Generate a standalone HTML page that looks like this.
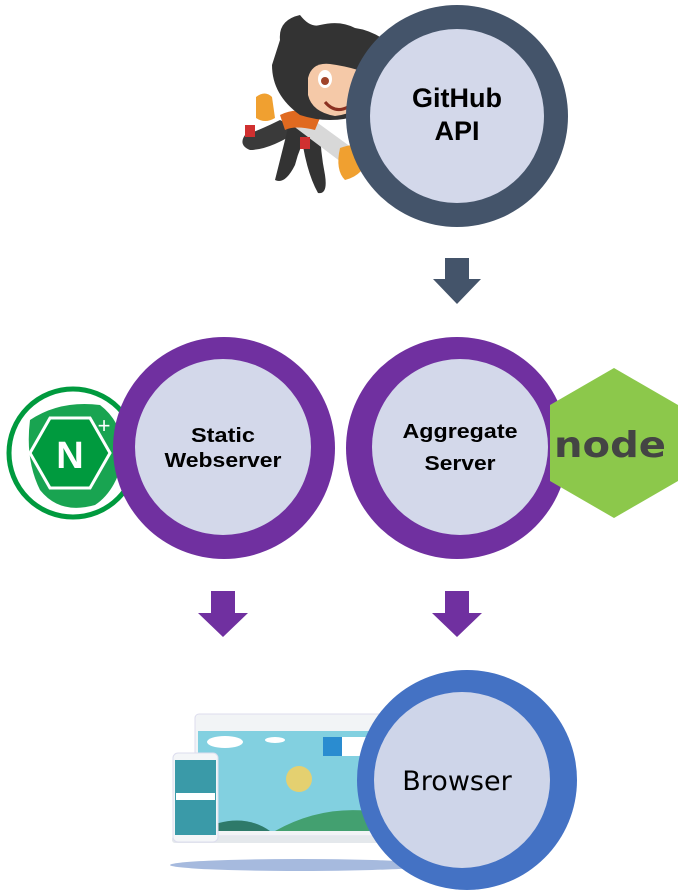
<!DOCTYPE html>
<html><head><meta charset="utf-8"><style>
html,body{margin:0;padding:0;background:#fff;}
svg{display:block;}
</style></head><body>
<svg width="681" height="892" viewBox="0 0 681 892" xmlns="http://www.w3.org/2000/svg">
<!-- Octocat (approx) -->
<g>
 <path d="M300 130 Q270 150 250 150 Q238 145 245 135 Q260 130 280 120 Z" fill="#3a3a3a"/>
 <path d="M290 120 Q280 160 275 180 Q285 185 295 165 Q300 145 310 130 Z" fill="#333"/>
 <path d="M300 125 Q305 170 318 193 Q328 195 325 175 Q320 150 320 125 Z" fill="#333"/>
 <path d="M256 97 Q265 90 272 97 L275 118 Q265 124 256 118 Z" fill="#f0a030"/>
 <path d="M300 110 L355 150 L345 165 L292 125 Z" fill="#d8d8d8"/>
 <path d="M340 148 Q360 140 368 155 Q365 175 345 180 Q335 170 340 148 Z" fill="#f0a030"/>
 <rect x="245" y="125" width="10" height="12" fill="#d03030"/>
 <rect x="300" y="137" width="10" height="12" fill="#d03030"/>
 <path d="M280 115 Q300 105 320 118 L315 130 Q295 125 285 130 Z" fill="#e06a20"/>
 <path d="M280 40 Q278 20 300 15 Q310 28 320 25 Q340 20 355 28 Q370 30 385 40 Q388 60 380 70 Q385 100 360 115 Q330 125 300 115 Q272 95 272 65 Z" fill="#333"/>
 <path d="M308 78 Q312 62 330 64 Q345 66 358 70 Q374 78 372 92 Q365 112 335 116 Q312 112 308 95 Z" fill="#f5c9a8"/>
 <ellipse cx="325" cy="79" rx="7" ry="9" fill="#fff"/><circle cx="325" cy="81" r="4" fill="#a0442a"/>
 <ellipse cx="362" cy="90" rx="5" ry="8" fill="#fff"/><circle cx="362" cy="92" r="3" fill="#a0442a"/>
 <path d="M325 102 Q335 114 348 107" stroke="#8a3020" stroke-width="3" fill="none"/>
</g>
<!-- GitHub API -->
<circle cx="457" cy="116" r="111" fill="#44546a"/>
<circle cx="457" cy="116" r="87" fill="#d3d8ea"/>
<text x="457" y="107" font-family="Liberation Sans, sans-serif" font-weight="bold" font-size="27" text-anchor="middle">GitHub</text>
<text x="457" y="140" font-family="Liberation Sans, sans-serif" font-weight="bold" font-size="27" text-anchor="middle">API</text>
<path d="M445 258 H469 V279 H481 L457 304 L433 279 H445 Z" fill="#44546a"/>
<!-- Nginx -->
<ellipse cx="73" cy="453" rx="64" ry="64" fill="#fff" stroke="#009a3e" stroke-width="5"/>
<path d="M30 420 Q60 400 100 405 Q120 420 125 450 Q118 490 95 505 Q60 515 40 490 Q25 460 30 420 Z" fill="#009a3e" opacity="0.9"/>
<polygon points="50,418 90,418 110,453 90,488 50,488 30,453" fill="#009a3e" stroke="#fff" stroke-width="3"/>
<text x="70" y="468" font-family="Liberation Sans, sans-serif" font-weight="bold" font-size="38" fill="#fff" text-anchor="middle">N</text>
<text x="104" y="433" font-family="Liberation Sans, sans-serif" font-size="22" fill="#fff" text-anchor="middle">+</text>
<!-- Static Webserver -->
<circle cx="224" cy="448" r="111" fill="#7030a0"/>
<circle cx="223" cy="447" r="88" fill="#d3d8ea"/>
<text x="223" y="442" font-family="Liberation Sans, sans-serif" font-weight="bold" font-size="20" text-anchor="middle" textLength="64" lengthAdjust="spacingAndGlyphs">Static</text>
<text x="223" y="467" font-family="Liberation Sans, sans-serif" font-weight="bold" font-size="20" text-anchor="middle" textLength="117" lengthAdjust="spacingAndGlyphs">Webserver</text>
<!-- Aggregate Server -->
<circle cx="457" cy="448" r="111" fill="#7030a0"/>
<circle cx="460" cy="447" r="88" fill="#d3d8ea"/>
<text x="460" y="438" font-family="Liberation Sans, sans-serif" font-weight="bold" font-size="20" text-anchor="middle" textLength="115" lengthAdjust="spacingAndGlyphs">Aggregate</text>
<text x="460" y="470" font-family="Liberation Sans, sans-serif" font-weight="bold" font-size="20" text-anchor="middle" textLength="71" lengthAdjust="spacingAndGlyphs">Server</text>
<!-- Node -->
<polygon points="614,368 678,405 678,481 614,518 550,481 550,405" fill="#8cc84b"/>
<text x="610" y="457" font-family="DejaVu Sans, sans-serif" font-weight="bold" font-size="36" fill="#444" text-anchor="middle" textLength="112" lengthAdjust="spacingAndGlyphs">node</text>
<!-- purple arrows -->
<path d="M211 591 H235 V613 H248 L223 637 L198 613 H211 Z" fill="#7030a0"/>
<path d="M445 591 H469 V613 H482 L457 637 L432 613 H445 Z" fill="#7030a0"/>
<!-- Browser -->
<ellipse cx="300" cy="865" rx="130" ry="6" fill="#6a8cc8" opacity="0.6"/>
<rect x="195" y="714" width="200" height="122" rx="4" fill="#f2f4f6" stroke="#dde" stroke-width="1"/>
<rect x="198" y="731" width="195" height="100" fill="#82d0e0"/>
<path d="M198 831 Q240 810 270 831 Z" fill="#2e7a6a"/>
<path d="M275 831 Q330 800 393 815 V831 Z" fill="#43a070"/>
<circle cx="299" cy="779" r="13" fill="#e4d070"/>
<ellipse cx="225" cy="742" rx="18" ry="6" fill="#fff"/>
<ellipse cx="275" cy="740" rx="10" ry="3" fill="#fff"/>
<rect x="323" y="737" width="60" height="19" fill="#fff"/>
<rect x="323" y="737" width="19" height="19" fill="#2a8cd0"/>
<rect x="172" y="836" width="225" height="7" rx="3" fill="#e4e8ec"/>
<rect x="173" y="753" width="45" height="89" rx="5" fill="#f4f6f8" stroke="#dde"/>
<rect x="175" y="760" width="41" height="75" fill="#3a9aa8"/>
<rect x="176" y="793" width="39" height="7" fill="#fff"/>
<circle cx="467" cy="780" r="110" fill="#4472c4"/>
<circle cx="462" cy="780" r="88" fill="#d3d8ea" opacity="0.97"/>
<text x="457" y="790" font-family="DejaVu Sans, sans-serif" font-size="27" text-anchor="middle">Browser</text>
</svg>
</body></html>
